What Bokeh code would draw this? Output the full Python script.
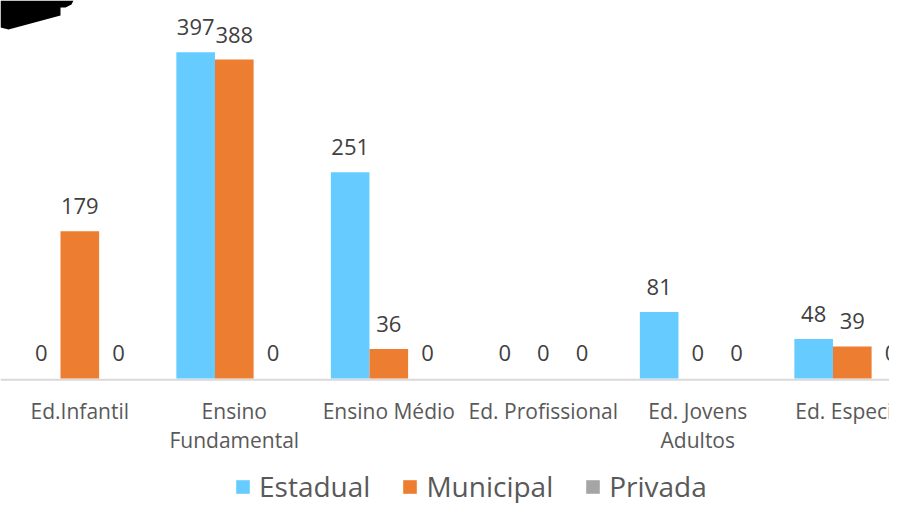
import numpy as np
from bokeh.plotting import figure
from bokeh.models import Range1d, Span, Legend, LegendItem, PolyAnnotation
from bokeh.core.properties import value
from bokeh.embed import file_html
from bokeh.resources import INLINE

categories = ["Ed.Infantil", "Ensino\nFundamental", "Ensino Médio",
              "Ed. Profissional", "Ed. Jovens\nAdultos", "Ed. Especial"]
series = ["Estadual", "Municipal", "Privada"]
estadual = [0, 397, 251, 0, 81, 48]
municipal = [179, 388, 36, 0, 0, 39]
privada = [0, 0, 0, 0, 0, 0]

colors = ["#66CCFF", "#ED7D31", "#A5A5A5"]
FONT = value("Open Sans")
H = 503

p = figure(width=889, height=H,
           x_range=Range1d(-0.5133, 5.2408), y_range=Range1d(-152.07, 459.85),
           output_backend="svg", toolbar_location=None, min_border=0,
           x_axis_location=None, y_axis_location=None)
p.grid.visible = False
p.outline_line_color = None
p.background_fill_color = "white"

# baseline
p.add_layout(Span(location=-1.5, dimension="width", line_color="#D9D9D9",
                  line_width=2, level="underlay"))

idx = np.arange(len(categories))
offsets = [-0.25, 0.0, 0.25]
renderers = []
for vals, off, col in zip([estadual, municipal, privada], offsets, colors):
    xs = idx + off
    r = p.vbar(x=xs, top=vals, bottom=0, width=0.25, fill_color=col,
               line_color=None)
    renderers.append(r)
    p.text(x=xs, y=vals, text=[str(v) for v in vals], text_align="center",
           text_baseline="alphabetic", y_offset=-25, text_font=FONT,
           text_font_size="22px", text_color="#404040")

# category labels (possibly two lines)
line1_x, line1_t, line2_x, line2_t = [], [], [], []
for i, c in enumerate(categories):
    parts = c.split("\n")
    line1_x.append(i); line1_t.append(parts[0])
    if len(parts) > 1:
        line2_x.append(i); line2_t.append(parts[1])
p.text(x=line1_x, y=[-40.0] * len(line1_x), text=line1_t, text_align="center",
       text_baseline="alphabetic", text_font=FONT, text_font_size="21px",
       text_color="#595959")
p.text(x=line2_x, y=[-75.4] * len(line2_x), text=line2_t, text_align="center",
       text_baseline="alphabetic", text_font=FONT, text_font_size="21px",
       text_color="#595959")

legend = Legend(items=[LegendItem(label=s, renderers=[r]) for s, r in zip(series, renderers)],
                orientation="horizontal", location=(234, -2),
                glyph_width=17, glyph_height=17, label_standoff=8, spacing=31,
                padding=0, margin=0, border_line_color=None,
                background_fill_alpha=0, label_text_font="Open Sans",
                label_text_font_size="28px", label_text_color="#595959")
p.add_layout(legend)

# decorative black shape at top-left corner (part of an image in the source)
shape_x = [0, 73, 71, 65, 60, 60, 8, 0]
shape_y = [0, 0, 4, 7, 7, 15, 29, 27]
p.add_layout(PolyAnnotation(xs=shape_x, ys=[H - y for y in shape_y],
                            xs_units="screen", ys_units="screen",
                            fill_color="black", fill_alpha=1, line_color=None))

open("out.html", "w").write(file_html(p, INLINE))
